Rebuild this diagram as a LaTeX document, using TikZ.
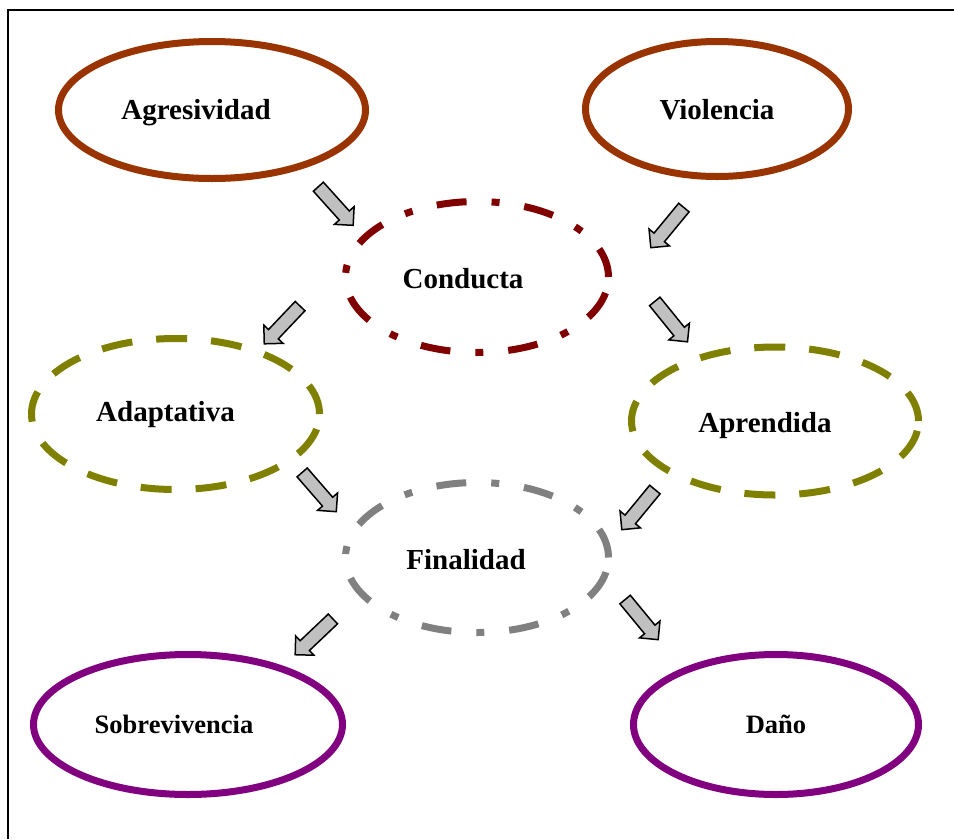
\documentclass[tikz,border=0pt]{standalone}
\usepackage{fontspec}
\setmainfont{Liberation Serif}
\usetikzlibrary{shapes.geometric,shapes.arrows}
\definecolor{cbrown}{HTML}{993300}
\definecolor{cmaroon}{HTML}{800000}
\definecolor{colive}{HTML}{808000}
\definecolor{cgray}{HTML}{808080}
\definecolor{cpurple}{HTML}{800080}
\definecolor{arrowgray}{HTML}{C0C0C0}
\begin{document}
\begin{tikzpicture}[x=1pt,y=-1pt,
  oval/.style={ellipse, line width=7pt, inner sep=0pt, outer sep=0pt},
  dashdotoval/.style={oval, dash pattern=on 30pt off 25pt on 8pt off 25pt},
  dashoval/.style={oval, dash pattern=on 31pt off 24pt},
  lbl/.style={font=\fontsize{29}{32}\selectfont\bfseries},
  lblsmall/.style={font=\fontsize{26.5}{30}\selectfont\bfseries},
  blockarrow/.style={single arrow, draw=black, line width=1.5pt, fill=arrowgray,
    minimum height=52pt, minimum width=0pt, single arrow head extend=6.5pt,
    inner sep=0pt, outer sep=0pt}]
\useasboundingbox (0,0) rectangle (954,839);
% frame (only top and left edges fall inside the picture)
\draw[line width=2pt] (8,839) -- (8,10) -- (954,10);

% ellipses
\node[oval, draw=cbrown, minimum width=307pt, minimum height=137pt,
  label={[lbl, xshift=-16pt, yshift=-3pt]center:Agresividad}] (agr) at (212,110) {};
\node[oval, draw=cbrown, minimum width=263pt, minimum height=135pt,
  label={[lbl, yshift=-1pt]center:Violencia}] (vio) at (717,109) {};
\node[dashdotoval, draw=cmaroon, minimum width=263pt, minimum height=151pt,
  label={[lbl, xshift=-14pt, yshift=-2pt]center:Conducta}] (con) at (477,277) {};
\node[dashoval, draw=colive, minimum width=288pt, minimum height=151pt,
  label={[lbl, xshift=-10pt, yshift=-1pt]center:Adaptativa}] (ada) at (175.5,414) {};
\node[dashoval, draw=colive, minimum width=287pt, minimum height=148pt,
  label={[lbl, xshift=-10pt, yshift=-5pt]center:Aprendida}] (apr) at (775,421) {};
\node[dashdotoval, draw=cgray, minimum width=263pt, minimum height=150pt,
  label={[lbl, xshift=-11pt, yshift=-2pt]center:Finalidad}] (fin) at (477,557.5) {};
\node[oval, draw=cpurple, minimum width=309pt, minimum height=140pt,
  label={[lblsmall, xshift=-14pt]center:Sobrevivencia}] (sob) at (188,724.5) {};
\node[oval, draw=cpurple, minimum width=285pt, minimum height=140pt,
  label={[lblsmall]center:Daño}] (dan) at (776,724.5) {};

% block arrows
\node[blockarrow, rotate=-48]    (a1) at (333.5,203.5) {\rule{0pt}{12pt}};
\node[blockarrow, rotate=-129.5] (a2) at (669.5,225) {\rule{0pt}{12pt}};
\node[blockarrow, rotate=-133.5] (a3) at (284.5,322.5) {\rule{0pt}{12pt}};
\node[blockarrow, rotate=-51]    (a4) at (669,319) {\rule{0pt}{12pt}};
\node[blockarrow, rotate=-49]    (a5) at (317,489.5) {\rule{0pt}{12pt}};
\node[blockarrow, rotate=-129.5] (a6) at (640.5,507) {\rule{0pt}{12pt}};
\node[blockarrow, rotate=-136.5] (a7) at (316.5,634.5) {\rule{0pt}{12pt}};
\node[blockarrow, rotate=-50.5]  (a8) at (639.5,617) {\rule{0pt}{12pt}};
\end{tikzpicture}
\end{document}
